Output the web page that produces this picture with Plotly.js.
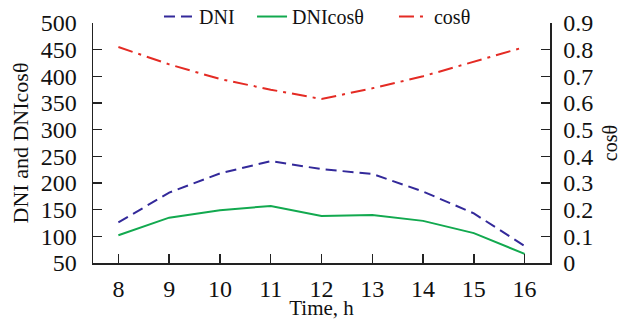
<!DOCTYPE html>
<html>
<head>
<meta charset="utf-8">
<script src="https://cdn.plot.ly/plotly-3.0.1.min.js"></script>
<style>html,body{margin:0;padding:0;background:#fff;}#chart{width:621px;height:320px;}</style>
</head>
<body>
<div id="chart"></div>
<script>
var hours = [8, 9, 10, 11, 12, 13, 14, 15, 16];
var dni = [126, 182, 218, 241, 226, 217, 184, 143, 82];
var dniCos = [102, 135, 149, 157, 138, 140, 129, 106, 67];
var cosTheta = [0.81, 0.745, 0.69, 0.65, 0.615, 0.655, 0.70, 0.755, 0.81];
var seriesNames = ['DNI', 'DNIcosθ', 'cosθ'];
var xTicks = [8, 9, 10, 11, 12, 13, 14, 15, 16];

var FONT = 'Liberation Serif';
var AX = '#222';

var traces = [
  {x: hours, y: dni, name: seriesNames[0], type: 'scatter', mode: 'lines', legend: 'legend',
   line: {color: '#33299a', width: 2, dash: '11px,6px'}},
  {x: hours, y: dniCos, name: seriesNames[1], type: 'scatter', mode: 'lines', legend: 'legend2',
   line: {color: '#12a94f', width: 2}},
  {x: hours, y: cosTheta, name: seriesNames[2], type: 'scatter', mode: 'lines', yaxis: 'y2', legend: 'legend3',
   line: {color: '#e42b24', width: 2, dash: '15px,6px,3px,6px'}}
];

function leg(x) {
  return {orientation: 'h', x: x, xanchor: 'left', y: 1.027, yanchor: 'middle',
          font: {family: FONT, size: 20, color: '#111'}, bgcolor: 'rgba(0,0,0,0)'};
}

var layout = {
  width: 621, height: 320,
  margin: {l: 93, r: 71, t: 23, b: 57, pad: 0, autoexpand: false},
  paper_bgcolor: '#fff', plot_bgcolor: '#fff',
  font: {family: FONT, color: '#111', size: 18},
  showlegend: true,
  legend: leg(0.1444),
  legend2: leg(0.348),
  legend3: leg(0.6586),
  xaxis: {range: [7.5, 16.5], tickvals: xTicks, ticktext: xTicks.map(String), automargin: false,
          showgrid: false, zeroline: false, showline: true, linecolor: AX, linewidth: 1.5,
          ticks: 'inside', ticklen: 9, tickwidth: 1.5, tickcolor: AX,
          tickfont: {family: FONT, size: 24, color: '#111'}, ticklabelstandoff: 4,
          title: {text: 'Time, h', font: {family: FONT, size: 21, color: '#111'}, standoff: 0}},
  yaxis: {range: [50, 500], dtick: 50, tick0: 50, automargin: false,
          showgrid: false, zeroline: false, showline: true, linecolor: AX, linewidth: 1.5,
          ticks: 'inside', ticklen: 9, tickwidth: 1.5, tickcolor: AX,
          tickfont: {family: FONT, size: 24, color: '#111'}, ticklabelstandoff: 10,
          title: {text: 'DNI and DNIcosθ', font: {family: FONT, size: 22, color: '#111'}, standoff: 6}},
  yaxis2: {range: [0, 0.9], dtick: 0.1, tick0: 0, overlaying: 'y', side: 'right', automargin: false,
          showgrid: false, zeroline: false, showline: true, linecolor: AX, linewidth: 1.5,
          ticks: 'inside', ticklen: 9, tickwidth: 1.5, tickcolor: AX,
          tickfont: {family: FONT, size: 24, color: '#111'}, ticklabelstandoff: 7,
          title: {text: 'cosθ', font: {family: FONT, size: 20, color: '#111'}, standoff: 12}}
};

Plotly.newPlot('chart', traces, layout, {staticPlot: true, displayModeBar: false});
</script>
</body>
</html>
